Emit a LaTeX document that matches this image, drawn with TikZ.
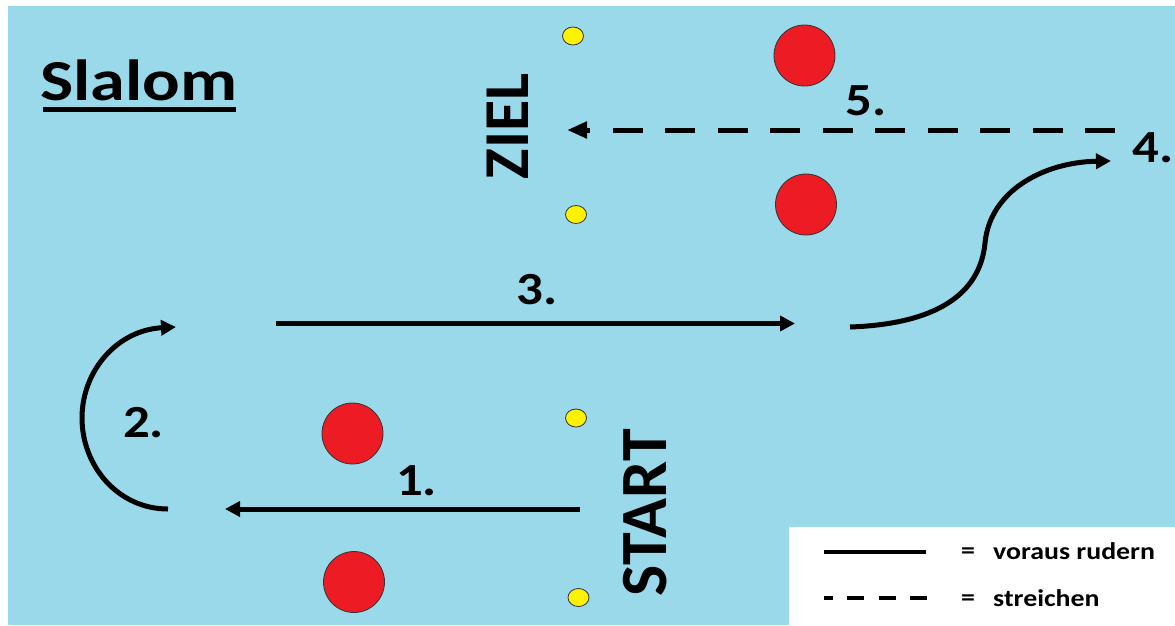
\documentclass[tikz,border=0pt]{standalone}
\usepackage{fontspec}
\usepackage{graphicx}
\setmainfont{Carlito}
\usetikzlibrary{arrows.meta}
\definecolor{water}{RGB}{153,217,234}
\definecolor{buoyred}{RGB}{237,28,36}
\definecolor{buoyyellow}{RGB}{255,242,0}
\tikzset{
  route/.style={line width=5pt, draw=black},
  tipA/.style={-{Triangle[length=15pt,width=15pt]}},
  tipB/.style={-{Triangle[length=20pt,width=16pt]}},
  number/.style={inner sep=0pt, anchor=base, font=\fontsize{46}{50}\selectfont\bfseries},
  gate/.style={inner sep=0pt, rotate=90, font=\fontsize{64}{70}\selectfont\bfseries},
  legendtext/.style={inner sep=0pt, anchor=west, font=\fontsize{24}{28}\selectfont\bfseries},
  bigbuoy/.style={circle, fill=buoyred, draw=black!80, line width=0.8pt, minimum size=61pt, inner sep=0pt},
  smallbuoy/.style={ellipse, fill=buoyyellow, draw=black!80, line width=0.8pt, minimum width=21pt, minimum height=18pt, inner sep=0pt}
}
\usetikzlibrary{shapes.geometric}
\begin{document}
\begin{tikzpicture}[x=1pt,y=-1pt]
\useasboundingbox (0,0) rectangle (1175,625);
\fill[white] (0,0) rectangle (1175,625);
\fill[water] (8,6) rectangle (1175,625);
% legend box
\fill[white] (789,527) rectangle (1175,625);

% title
\node[inner sep=0pt, anchor=base west, font=\fontsize{58}{62}\selectfont\bfseries] (title) at (40,100) {\scalebox{1.21}[1]{Slalom}};
\draw[line width=5pt] (43,109.5) -- (236,109.5);

% buoys
\node[smallbuoy] (y1) at (573,36) {};
\node[smallbuoy] (y2) at (576,214.5) {};
\node[smallbuoy] (y3) at (576,418) {};
\node[smallbuoy] (y4) at (578.5,597.5) {};
\node[bigbuoy] (r1) at (804.5,55.5) {};
\node[bigbuoy] (r2) at (806,204.5) {};
\node[bigbuoy] (r3) at (352.5,433.5) {};
\node[bigbuoy] (r4) at (354,582) {};

% gates
\node[gate] (ziel) at (507.5,126.5) {ZIEL};
\node[gate, font=\fontsize{66}{72}\selectfont\bfseries] (start) at (645.5,512.5) {START};

% route coordinates
\coordinate (a1) at (580,509);
\coordinate (b1) at (225,509);
\coordinate (a2) at (168,509);
\coordinate (b2) at (176,327);
\coordinate (a3) at (276,323.5);
\coordinate (b3) at (795,323.5);
\coordinate (a4) at (850,327);
\coordinate (m4) at (985,243);
\coordinate (b4) at (1111,161);
\coordinate (a5) at (1115,130);
\coordinate (b5) at (567,130);

% routes
\draw[route, tipA] (a1) -- (b1);
\draw[route, tipA] (a2) .. controls (118,509) and (82,466) .. (82,418) .. controls (82,370) and (118,330) .. (b2);
\draw[route, tipA] (a3) -- (b3);
\draw[route, tipA] (a4) .. controls (935,324) and (980,295) .. (m4) .. controls (990,190) and (1045,162) .. (b4);
\draw[route, tipB, dash pattern=on 30pt off 22.5pt] (a5) -- (b5);

% numbers
\node[number] (n1) at (416.5,495) {\scalebox{1.15}[1]{1.}};
\node[number] (n2) at (143.5,437) {\scalebox{1.15}[1]{2.}};
\node[number] (n3) at (537,304) {\scalebox{1.15}[1]{3.}};
\node[number] (n4) at (1153,162) {\scalebox{1.15}[1]{4.}};
\node[number] (n5) at (866,115) {\scalebox{1.15}[1]{5.}};

% legend
\coordinate (l1a) at (824,551.5);
\coordinate (l1b) at (926,551.5);
\coordinate (l2a) at (927,598);
\coordinate (l2b) at (824,598);
\draw[line width=4pt] (l1a) -- (l1b);
\draw[line width=4pt, dash pattern=on 17pt off 14.5pt] (l2a) -- (l2b);
\node[legendtext] (eq1) at (961,553) {\scalebox{1.16}[1]{=}};
\node[legendtext] (t1) at (993,551) {\scalebox{1.16}[1]{voraus rudern}};
\node[legendtext] (eq2) at (961,600) {\scalebox{1.16}[1]{=}};
\node[legendtext] (t2) at (993,598) {\scalebox{1.16}[1]{streichen}};
\end{tikzpicture}
\end{document}
